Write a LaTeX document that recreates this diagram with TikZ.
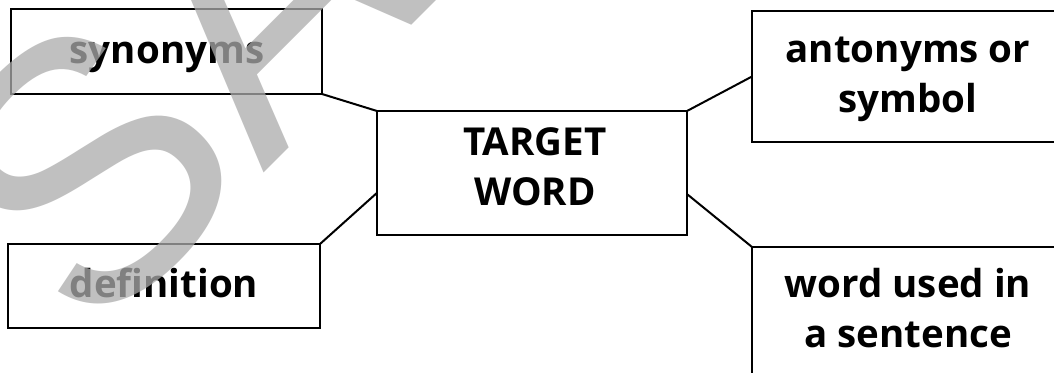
\documentclass[tikz,border=0pt]{standalone}
\usepackage{fontspec}
\setmainfont{Open Sans}[Ligatures=NoCommon]
\newfontfamily\wmfont{Liberation Sans}
\usetikzlibrary{calc}
\definecolor{wmgray}{RGB}{171,171,171}
\begin{document}
\begin{tikzpicture}[x=1pt,y=-1pt,
  box/.style={draw=black, line width=2.6pt, inner sep=0pt, outer sep=0pt},
  conn/.style={draw=black, line width=2pt},
  lbl/.style={anchor=base, inner sep=0pt, font=\fontsize{38.5}{50}\selectfont\bfseries},
  wm/.style={inner sep=0pt, text=wmgray, text opacity=0.75, font=\fontsize{368}{368}\selectfont\wmfont}]
\useasboundingbox (0,0) rectangle (1054,372);
\fill[white] (0,0) rectangle (1054,372);
\clip (0,0) rectangle (1054,372);
% boxes
\node[box, minimum width=311pt, minimum height=85pt] (syn) at (166.5,51.5) {};
\node[box, minimum width=312pt, minimum height=84pt] (def) at (164,286) {};
\node[box, minimum width=310pt, minimum height=124pt] (ctr) at (532,173) {};
\node[box, minimum width=312pt, minimum height=131pt] (ant) at (908,76.5) {};
\node[box, minimum width=312pt, minimum height=153pt] (sent) at (908,323.5) {};
% labels
\node[lbl] (tsyn) at (167,63) {synonyms};
\node[lbl] (tdef) at (164,297) {definition};
\node[lbl] (tctr1) at (535,155) {TARGET};
\node[lbl] (tctr2) at (535,205) {WORD};
\node[lbl] (tant1) at (908,62) {antonyms or};
\node[lbl] (tant2) at (908,112) {symbol};
\node[lbl] (tsent1) at (908,297) {word used in};
\node[lbl] (tsent2) at (908,347) {a sentence};
% connectors
\draw[conn] (syn.south east) -- (ctr.north west);
\draw[conn] (def.north east) -- ($(ctr.north west)!0.66!(ctr.south west)$);
\draw[conn] (ctr.north east) -- (ant.west);
\draw[conn] ($(ctr.north east)!0.67!(ctr.south east)$) -- (sent.north west);
% watermark
\node[wm, rotate=45, anchor=base west] (wmark) at (89.4,346.8) {SAMPLE};
\end{tikzpicture}
\end{document}
